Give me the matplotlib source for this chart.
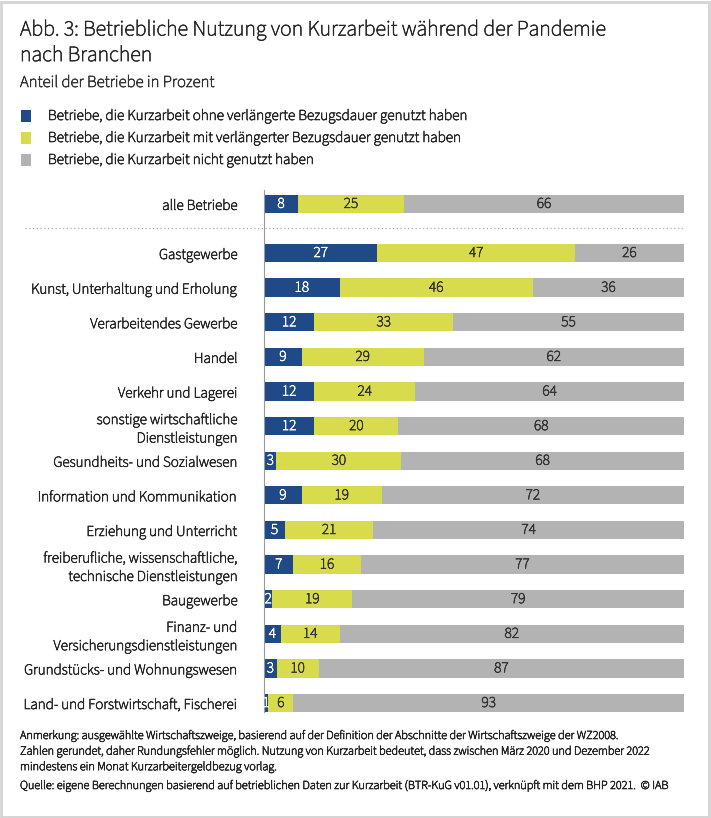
import numpy as np
import matplotlib
matplotlib.use('Agg')
from matplotlib import pyplot as plt
from matplotlib import font_manager as fm
from matplotlib import patheffects as pe
from matplotlib.lines import Line2D
from matplotlib.patches import Rectangle

avail = {f.name for f in fm.fontManager.ttflist}
fam = 'Liberation Sans'
for name in ['Source Sans 3', 'Source Sans Pro', 'Roboto Condensed', 'Liberation Sans']:
    if name in avail:
        fam = name
        break
plt.rcParams['font.family'] = [fam, 'DejaVu Sans']

# data
branchen = ['alle Betriebe',
            'Gastgewerbe',
            'Kunst, Unterhaltung und Erholung',
            'Verarbeitendes Gewerbe',
            'Handel',
            'Verkehr und Lagerei',
            'sonstige wirtschaftliche\nDienstleistungen',
            'Gesundheits- und Sozialwesen',
            'Information und Kommunikation',
            'Erziehung und Unterricht',
            'freiberufliche, wissenschaftliche,\ntechnische Dienstleistungen',
            'Baugewerbe',
            'Finanz- und\nVersicherungsdienstleistungen',
            'Grundstücks- und Wohnungswesen',
            'Land- und Forstwirtschaft, Fischerei']
ohne_verl = [8, 27, 18, 12, 9, 12, 12, 3, 9, 5, 7, 2, 4, 3, 1]
mit_verl = [25, 47, 46, 33, 29, 24, 20, 30, 19, 21, 16, 19, 14, 10, 6]
nicht = [66, 26, 36, 55, 62, 64, 68, 68, 72, 74, 77, 79, 82, 87, 93]

legend_labels = ['Betriebe, die Kurzarbeit ohne verlängerte Bezugsdauer genutzt haben',
                 'Betriebe, die Kurzarbeit mit verlängerter Bezugsdauer genutzt haben',
                 'Betriebe, die Kurzarbeit nicht genutzt haben']
colors = ['#1f4a87', '#d8dc4c', '#b3b3b3']
text_cols = ['white', '#333333', '#333333']

title = 'Abb. 3: Betriebliche Nutzung von Kurzarbeit während der Pandemie\nnach Branchen'
subtitle = 'Anteil der Betriebe in Prozent'
note = ('Anmerkung: ausgewählte Wirtschaftszweige, basierend auf der Definition der Abschnitte der Wirtschaftszweige der WZ2008.\n'
        'Zahlen gerundet, daher Rundungsfehler möglich. Nutzung von Kurzarbeit bedeutet, dass zwischen März 2020 und Dezember 2022\n'
        'mindestens ein Monat Kurzarbeitergeldbezug vorlag.')
quelle = 'Quelle: eigene Berechnungen basierend auf betrieblichen Daten zur Kurzarbeit (BTR-KuG v01.01), verknüpft mit dem BHP 2021.  © IAB'

W, H = 711, 818
fig = plt.figure(figsize=(W / 100, H / 100), dpi=100)

ax = fig.add_axes([264 / W, 1 - 712 / H, 420 / W, (712 - 190) / H])

vals = np.array([ohne_verl, mit_verl, nicht], dtype=float)
shares = vals / vals.sum(axis=0) * 100

ypos = np.arange(len(branchen), dtype=float) - 1
ypos[0] = -1.42

bar_texts = []
left = np.zeros(len(branchen))
for k in range(3):
    ax.barh(ypos, shares[k], left=left, height=0.53, color=colors[k], edgecolor='none')
    for i in range(len(branchen)):
        t = ax.text(left[i] + shares[k][i] / 2, ypos[i], str(int(vals[k][i])),
                    ha='center', va='center', fontsize=11, color=text_cols[k])
        bar_texts.append(t)
    left += shares[k]

ax.set_xlim(0, 100)
ax.set_ylim(13.26, -1.82)
ax.set_yticks(ypos)
ax.set_yticklabels(branchen, fontsize=11, color='#262626', linespacing=1.2)
ax.tick_params(axis='y', length=0, pad=19)
ax.set_xticks([])
for s in ['top', 'right', 'bottom']:
    ax.spines[s].set_visible(False)
ax.spines['left'].set_color('#999999')
ax.spines['left'].set_linewidth(0.8)
for lbl in ax.get_yticklabels():
    lbl.set_multialignment('right')

# dotted separator
ysep = 1 - 228 / H
fig.add_artist(Line2D([25 / W, 684 / W], [ysep, ysep], color='#aaaaaa',
                      lw=0.9, linestyle=(0, (1, 2))))

# header
t_title = fig.text(20 / W, 1 - 19 / H, title, fontsize=16, va='top', ha='left',
                   color='#262626', linespacing=1.25)
t_sub = fig.text(20 / W, 1 - 83 / H, subtitle, fontsize=11, va='center', ha='left', color='#333333')

# legend
leg_texts = []
for k, y in enumerate([116, 138, 160]):
    fig.add_artist(Rectangle((21 / W, 1 - (y + 6) / H), 10 / W, 12 / H,
                             facecolor=colors[k], edgecolor='none'))
    leg_texts.append(fig.text(48 / W, 1 - y / H, legend_labels[k], fontsize=10.5,
                              va='center', ha='left', color='#262626'))

# footnotes
t_note = fig.text(20 / W, 1 - 730 / H, note, fontsize=9, va='top', ha='left',
                  color='#262626', linespacing=1.4)
t_q = fig.text(20 / W, 1 - 786 / H, quelle, fontsize=9, va='center', ha='left', color='#262626')

# frame
fig.add_artist(Rectangle((1 / W, 1 / H), (W - 3) / W, (H - 3) / H, fill=False,
                         edgecolor='#d4d4d4', lw=2))

# fit font sizes to the widths seen in the reference
fig.canvas.draw()
r = fig.canvas.get_renderer()


def fit(t, target):
    w = t.get_window_extent(r).width
    return t.get_fontsize() * target / w


t_title.set_fontsize(fit(t_title, 588))
t_sub.set_fontsize(fit(t_sub, 196))
s_leg = fit(leg_texts[0], 418)
for t in leg_texts:
    t.set_fontsize(s_leg)
s_note = fit(t_q, 652)
t_q.set_fontsize(s_note)
t_note.set_fontsize(s_note)
tl = ax.get_yticklabels()
s_lab = fit(tl[2], 207)
for t in tl:
    t.set_fontsize(s_lab)
for t in bar_texts:
    t.set_fontsize(s_lab * 1.02)

# slightly heavier strokes so the thin font reads like the reference
all_txt = [t_title, t_sub, t_note, t_q] + leg_texts + list(tl) + bar_texts
for t in all_txt:
    t.set_path_effects([pe.withStroke(linewidth=0.45, foreground=t.get_color())])

fig.savefig('out.png', dpi=100)
